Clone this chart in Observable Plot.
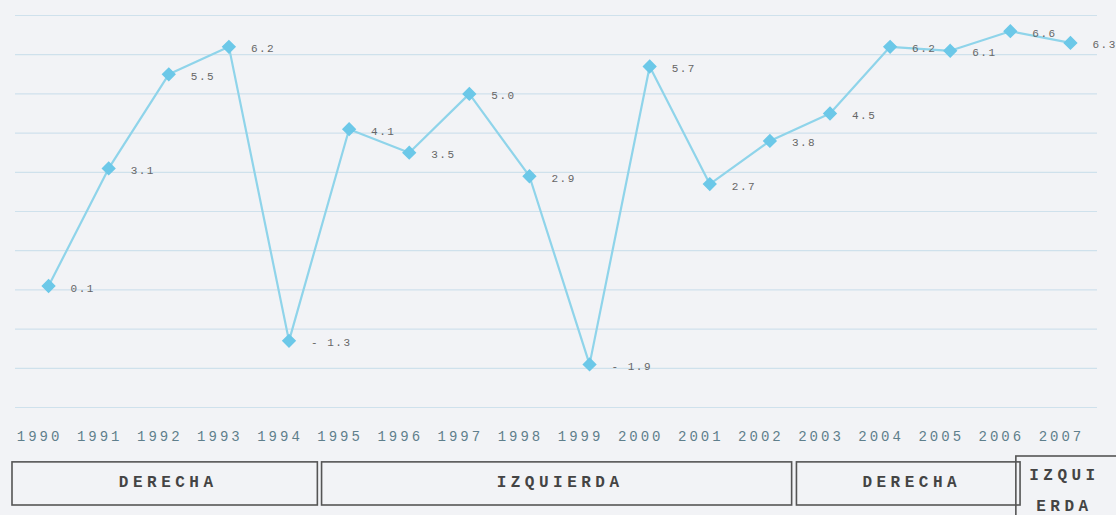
<!DOCTYPE html>
<html>
<head>
<meta charset="utf-8">
<script src="https://cdn.jsdelivr.net/npm/d3@7"></script>
<script src="https://cdn.jsdelivr.net/npm/@observablehq/plot@0.6"></script>
<style>
  html, body { margin: 0; padding: 0; background: #f2f3f6; }
  #chart svg { display: block; background: #f2f3f6; }
  g[font-size="14"] text { letter-spacing: 3px; }
  g[font-size="16"] text { letter-spacing: 4.5px; }
  g[font-size="11"] text { letter-spacing: 1.5px; }
</style>
</head>
<body>
<div id="chart"></div>
<script>
const years = [1990,1991,1992,1993,1994,1995,1996,1997,1998,1999,2000,2001,2002,2003,2004,2005,2006,2007];
const growth = [0.1,3.1,5.5,6.2,-1.3,4.1,3.5,5.0,2.9,-1.9,5.7,2.7,3.8,4.5,6.2,6.1,6.6,6.3];
const gridValues = [-3,-2,-1,0,1,2,3,4,5,6,7];
const periodLabels = ["DERECHA", "IZQUIERDA", "DERECHA", "IZQUI\nERDA"];
const periodStart = [1989.4, 1994.55, 2002.45, 2006.1];
const periodEnd = [1994.48, 2002.37, 2006.17, 2007.8];

const data = years.map((y, i) => ({year: y, v: growth[i]}));
const periods = periodLabels.map((l, i) => ({label: l, start: periodStart[i], end: periodEnd[i], multi: l.includes("\n")}));

const fmt = v => v < 0 ? "- " + Math.abs(v).toFixed(1) : v.toFixed(1);

const chart = Plot.plot({
  width: 1116,
  height: 515,
  marginTop: 15,
  marginBottom: 108,
  marginLeft: 15,
  marginRight: 19,
  style: {background: "#f2f3f6"},
  x: {domain: [1989.45, 2007.45], axis: null},
  y: {domain: [-3, 7], axis: null},
  marks: [
    Plot.ruleY(gridValues, {stroke: "#cfe1ec", strokeWidth: 1.2}),
    Plot.axisX({ticks: years, tickFormat: "d", tickSize: 0, tickPadding: 24, dx: -9,
      fontSize: 14, fontFamily: "Liberation Mono", fill: "#5f7f8c"}),
    Plot.line(data, {x: "year", y: "v", stroke: "#8fd4ea", strokeWidth: 2.2}),
    Plot.dot(data, {x: "year", y: "v", symbol: "diamond2", r: 5.5, fill: "#6cc8e8", stroke: "#6cc8e8"}),
    Plot.text(data, {x: "year", y: "v", text: d => fmt(d.v), dx: 22, dy: 2, textAnchor: "start",
      fontSize: 11, fontFamily: "Liberation Mono", fill: "#666"}),
    Plot.rect(periods, {x1: "start", x2: "end",
      y1: d => d.multi ? -4.25 : -4.4, y2: d => d.multi ? -5.8 : -5.5,
      fill: "none", stroke: "#555", strokeWidth: 1.6}),
    Plot.text(periods, {x: d => (d.start + d.end) / 2 + (d.multi ? -0.05 : 0.05), y: d => d.multi ? -5.0 : -4.77,
      text: "label", lineHeight: 1.9,
      fontSize: 16, fontWeight: "bold", fontFamily: "Liberation Mono", fill: "#444"})
  ]
});
document.getElementById("chart").appendChild(chart);
</script>
</body>
</html>
